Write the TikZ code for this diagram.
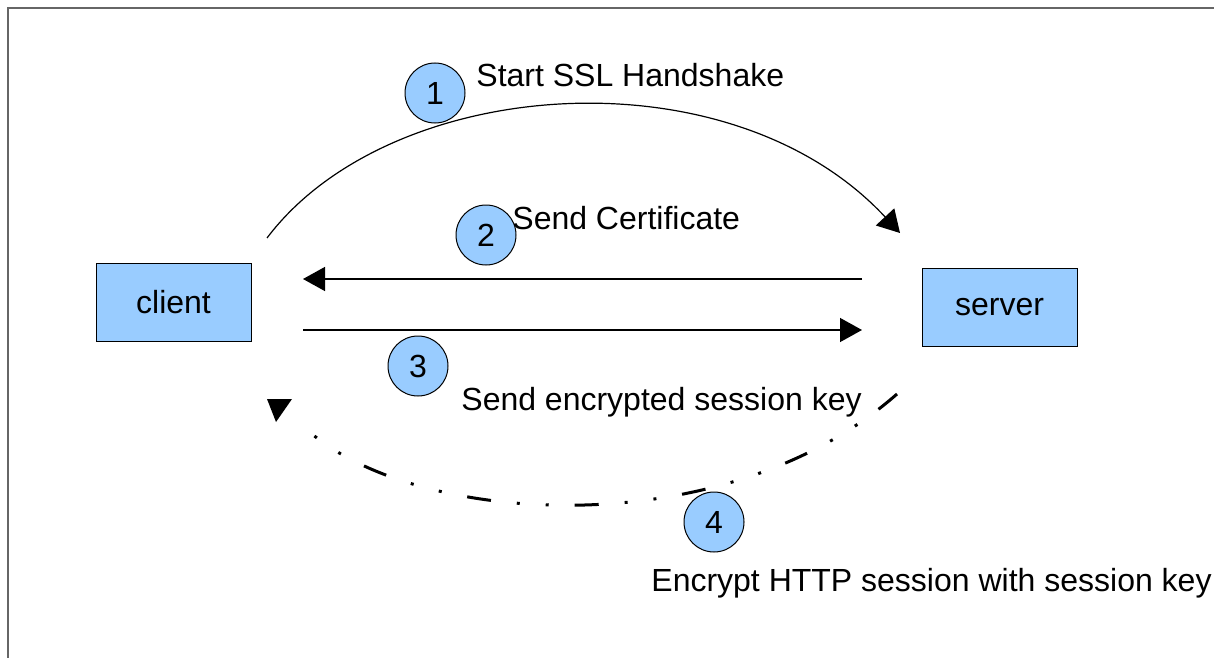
\documentclass[tikz,border=0pt]{standalone}
\usepackage{fontspec}
\setmainfont{Liberation Sans}
\usetikzlibrary{arrows.meta}
\definecolor{boxblue}{HTML}{99CCFF}
\definecolor{framegray}{HTML}{666666}
\begin{document}
\begin{tikzpicture}[x=0.5pt,y=-0.5pt,
  txt/.style={font=\fontsize{16}{19}\selectfont},
  box/.style={txt, draw=black, line width=0.5pt, fill=boxblue, minimum width=77.5pt, minimum height=39pt, inner sep=0pt},
  num/.style={txt, circle, draw=black, line width=0.5pt, fill=boxblue, minimum size=30pt, inner sep=0pt},
  lbl/.style={txt, anchor=base west, inner sep=0pt},
  arr/.style={line width=0.7pt, -{Triangle[length=11pt,width=12pt]}},
  dashdotdot/.style={line width=1.5pt, dash pattern=on 12pt off 13pt on 1.5pt off 13pt on 1.5pt off 13pt}
]
\useasboundingbox (0,0) rectangle (1214,658);
\draw[framegray, line width=1pt] (1214,8) -- (8,8) -- (8,658);

\node[box] (client) at (173.5,302) {client};
\node[box] (server) at (999.5,307.5) {server};

% connector end points
\coordinate (a1s) at (267,238);
\coordinate (a1e) at (900,233);
\coordinate (a2s) at (862,279);
\coordinate (a2e) at (303,279);
\coordinate (a3s) at (303,330);
\coordinate (a3e) at (862,330);
\coordinate (a4s) at (897,394);
\coordinate (a4e) at (300,423);

\draw[line width=0.6pt, -{Triangle[length=11pt,width=12.5pt]}] (a1s) .. controls (390,75) and (730,50) .. (a1e);
\draw[arr] (a2s) -- (a2e);
\draw[arr] (a3s) -- (a3e);
\draw[dashdotdot] (a4s) .. controls (720,550) and (400,525) .. (a4e);
\fill (267,399) -- (292,399) -- (276,422) -- cycle;

\node[num] (n1) at (435,93) {1};
\node[num] (n2) at (486,235) {2};
\node[num] (n3) at (418,366) {3};
\node[num] (n4) at (714,522) {4};

\node[lbl] (l1) at (476,87) {Start SSL Handshake};
\node[lbl] (l2) at (512,229) {Send Certificate};
\node[lbl] (l3) at (461,410) {Send encrypted session key};
\node[lbl] (l4) at (651,591) {Encrypt HTTP session with session key};
\end{tikzpicture}
\end{document}
